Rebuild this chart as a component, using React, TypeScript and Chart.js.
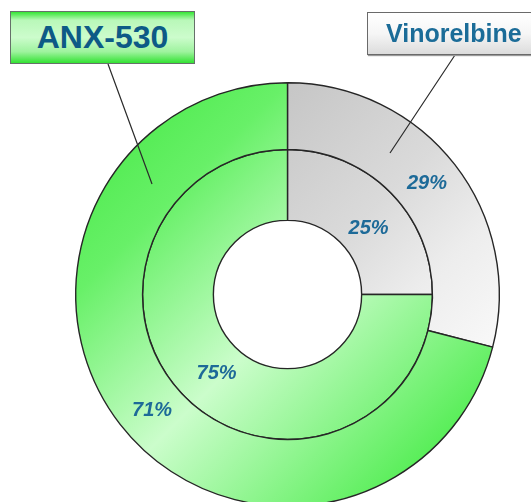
import React, { useEffect, useRef } from "react";
import { Chart, registerables } from "chart.js";

Chart.register(...registerables);

// Drug arms, outer ring (first dataset) and inner ring (second dataset)
const categories = ["Vinorelbine", "ANX-530"];
const outerValues = [29, 71];
const innerValues = [25, 75];

// Ring thickness weights (outer, inner)
const ringWeights = [67, 71];

const LABEL_COLOR = "#1d6a98";

// Where each percentage sits inside its arc: [fraction along the arc, fraction across the ring]
const labelAnchors = [
  [
    [0.49, 0.51],
    [0.49, 0.49],
  ],
  [
    [0.56, 0.44],
    [0.49, 0.44],
  ],
];

function sliceFill(ctx: any) {
  const chart = ctx.chart;
  const area = chart.chartArea;
  if (!area) return ctx.dataIndex === 0 ? "#e0e0e0" : "#aaf5aa";
  const g = chart.ctx.createLinearGradient(area.left, area.top, area.right, area.bottom);
  if (ctx.dataIndex === 0) {
    g.addColorStop(0, "#b8b8b8");
    g.addColorStop(0.28, "#c8c8c8");
    g.addColorStop(0.5, "#dadada");
    g.addColorStop(0.65, "#ededed");
    g.addColorStop(0.8, "#f8f8f8");
    g.addColorStop(1, "#fcfcfc");
  } else {
    g.addColorStop(0, "#3fe83f");
    g.addColorStop(0.25, "#68f068");
    g.addColorStop(0.52, "#cbfdcb");
    g.addColorStop(0.85, "#5aee5a");
    g.addColorStop(1, "#45ea45");
  }
  return g;
}

// Percentage labels inside each arc, plus leader lines from the name boxes
const ringLabels = {
  id: "ringLabels",
  afterDatasetsDraw(chart: any) {
    const c = chart.ctx;
    c.save();
    c.font = "italic bold 20px 'Liberation Sans', Arial, sans-serif";
    c.fillStyle = LABEL_COLOR;
    c.textAlign = "center";
    c.textBaseline = "middle";
    chart.data.datasets.forEach((ds: any, di: number) => {
      const meta = chart.getDatasetMeta(di);
      meta.data.forEach((arc: any, i: number) => {
        const { x, y, startAngle, endAngle, innerRadius, outerRadius } = arc.getProps(
          ["x", "y", "startAngle", "endAngle", "innerRadius", "outerRadius"],
          true
        );
        const [fa, fr] = labelAnchors[di][i];
        const a = startAngle + (endAngle - startAngle) * fa;
        const r = innerRadius + (outerRadius - innerRadius) * fr;
        c.fillText(ds.data[i] + "%", x + Math.cos(a) * r, y + Math.sin(a) * r + 1);
      });
    });

    // leader lines: ANX-530 box -> outer green slice, Vinorelbine box -> outer gray slice
    c.strokeStyle = "#2b2b2b";
    c.lineWidth = 1.2;
    c.beginPath();
    c.moveTo(108, 64);
    c.lineTo(152, 184);
    c.moveTo(455, 55);
    c.lineTo(390, 153);
    c.stroke();
    c.restore();
  },
};

export default function App() {
  const ref = useRef<HTMLCanvasElement>(null);

  useEffect(() => {
    if (!ref.current) return;
    const chart = new Chart(ref.current, {
      type: "doughnut",
      data: {
        labels: categories,
        datasets: [
          {
            data: outerValues,
            weight: ringWeights[0],
            backgroundColor: sliceFill,
            borderColor: "#262626",
            borderWidth: 1.4,
          },
          {
            data: innerValues,
            weight: ringWeights[1],
            backgroundColor: sliceFill,
            borderColor: "#262626",
            borderWidth: 1.4,
          },
        ],
      },
      options: {
        responsive: false,
        animation: false,
        cutout: "35%",
        layout: { padding: { left: 75, top: 82, right: 31, bottom: 23 } },
        plugins: {
          legend: { display: false },
          tooltip: { enabled: false },
        },
      },
      plugins: [ringLabels],
    });
    return () => chart.destroy();
  }, []);

  const boxFont = "'Liberation Sans', Arial, sans-serif";

  return (
    <div
      style={{
        position: "fixed",
        left: 0,
        top: 0,
        width: 531,
        height: 502,
        overflow: "hidden",
        background: "#ffffff",
      }}
    >
      <canvas ref={ref} width={531} height={530} style={{ width: 531, height: 530, display: "block" }} />
      <div
        style={{
          position: "absolute",
          left: 10,
          top: 11,
          width: 185,
          height: 53,
          boxSizing: "border-box",
          border: "1px solid #66706a",
          background:
            "linear-gradient(to bottom, #35e635 0%, #b9f8b9 16%, #ccfccc 50%, #9ef39e 78%, #33e233 100%)",
          display: "flex",
          alignItems: "center",
          justifyContent: "center",
          fontFamily: boxFont,
          fontWeight: "bold",
          fontSize: 32,
          color: "#0d5a86",
        }}
      >
        ANX-530
      </div>
      <div
        style={{
          position: "absolute",
          left: 367,
          top: 12,
          width: 190,
          height: 43,
          boxSizing: "border-box",
          border: "1px solid #6a6a6a",
          boxShadow: "1px 1px 1px #9a9a9a",
          background: "linear-gradient(to bottom, #ffffff 0%, #f6f6f6 50%, #dcdcdc 100%)",
          display: "flex",
          alignItems: "center",
          paddingLeft: 18,
          fontFamily: boxFont,
          fontWeight: "bold",
          fontSize: 25,
          color: "#1b6c98",
        }}
      >
        Vinorelbine
      </div>
    </div>
  );
}
